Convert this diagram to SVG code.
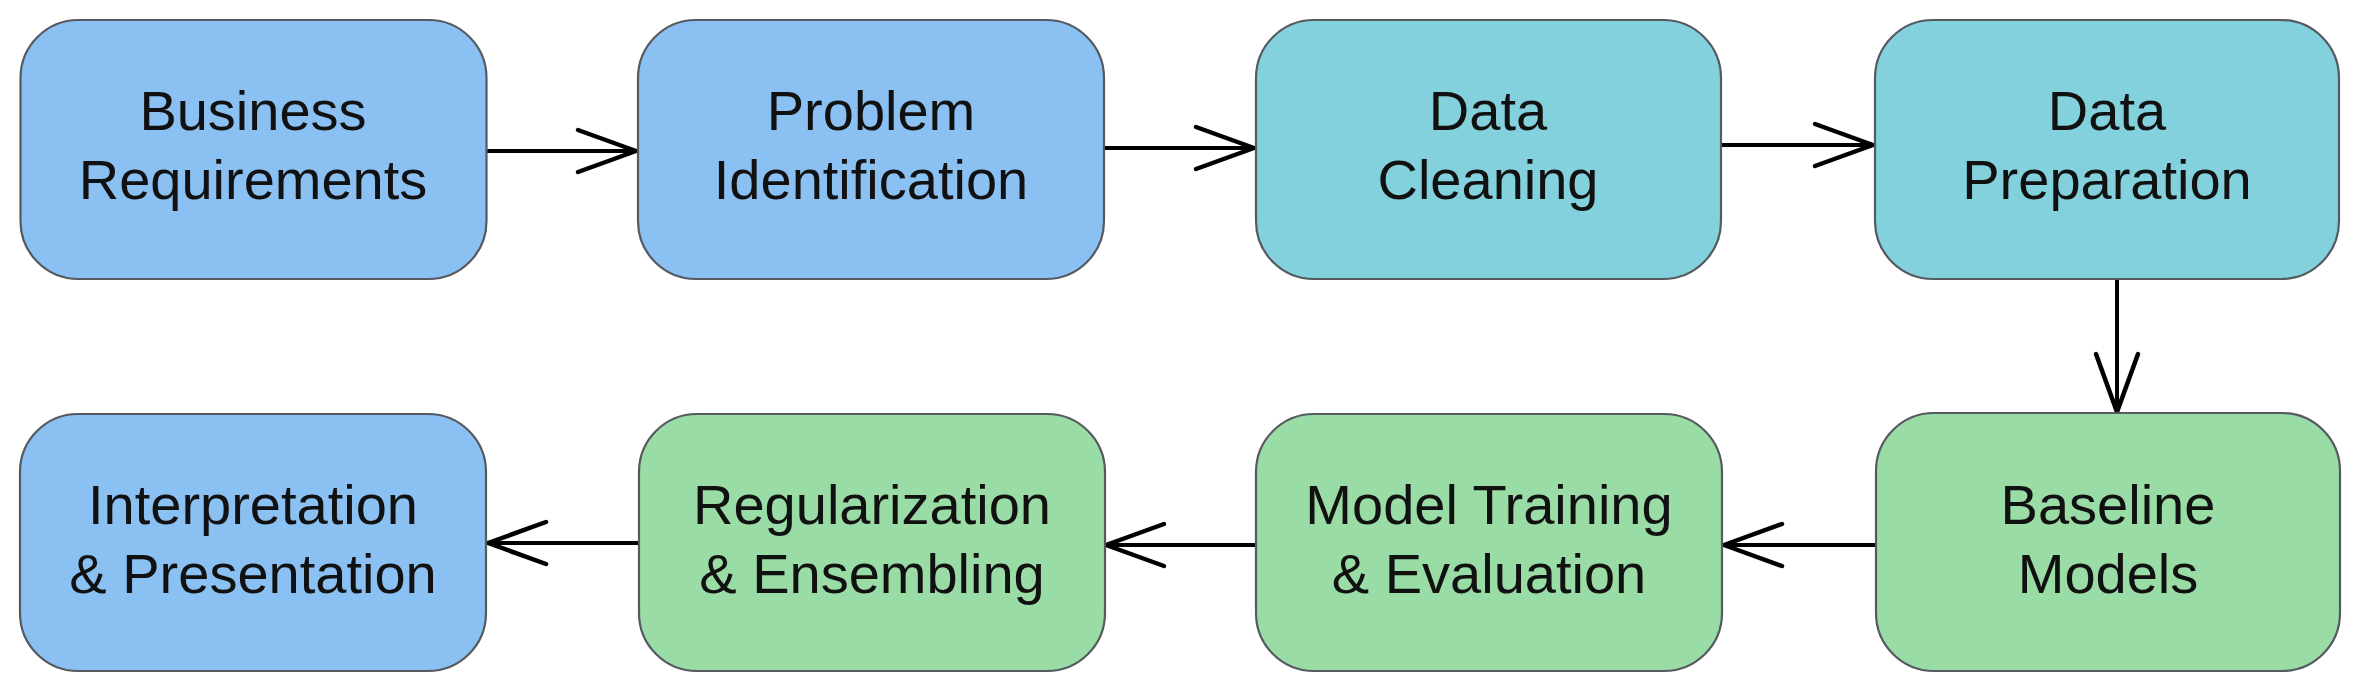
<svg xmlns="http://www.w3.org/2000/svg" width="2360" height="693" viewBox="0 0 2360 693">
<style>
.box{stroke:#555a60;stroke-width:2.2}
.blue{fill:#8ac0f2}
.teal{fill:#83d1dc}
.green{fill:#9adca5}
.lbl{font-family:"Liberation Sans",Arial,sans-serif;font-size:56px;fill:#111;text-anchor:middle}
.conn{fill:none;stroke:#000;stroke-width:4;stroke-linecap:round}
</style>
<defs>
<marker id="arr" markerUnits="userSpaceOnUse" viewBox="-64 -26 68 52" markerWidth="68" markerHeight="52" refX="0" refY="0" orient="auto">
<path d="M-58,-21 L0,0 L-58,21" fill="none" stroke="#000" stroke-width="4.5" stroke-linecap="round" stroke-linejoin="round"/>
</marker>
</defs>
<rect width="2360" height="693" fill="#fff"/>
<g id="connectors">
<path class="conn" d="M486,151 H636" marker-end="url(#arr)"/>
<path class="conn" d="M1104,148 H1254" marker-end="url(#arr)"/>
<path class="conn" d="M1721,145 H1873" marker-end="url(#arr)"/>
<path class="conn" d="M2117,279 V412" marker-end="url(#arr)"/>
<path class="conn" d="M1875,545 H1724" marker-end="url(#arr)"/>
<path class="conn" d="M1256,545 H1106" marker-end="url(#arr)"/>
<path class="conn" d="M638,543 H488" marker-end="url(#arr)"/>
</g>
<g id="n1">
<rect class="box blue" x="20.5" y="20" width="466" height="259" rx="58"/>
<text class="lbl" x="253" y="130">Business</text>
<text class="lbl" x="253" y="199">Requirements</text>
</g>
<g id="n2">
<rect class="box blue" x="638" y="20" width="466" height="259" rx="58"/>
<text class="lbl" x="871" y="130">Problem</text>
<text class="lbl" x="871" y="199">Identification</text>
</g>
<g id="n3">
<rect class="box teal" x="1256" y="20" width="465" height="259" rx="58"/>
<text class="lbl" x="1488" y="130">Data</text>
<text class="lbl" x="1488" y="199">Cleaning</text>
</g>
<g id="n4">
<rect class="box teal" x="1875" y="20" width="464" height="259" rx="58"/>
<text class="lbl" x="2107" y="130">Data</text>
<text class="lbl" x="2107" y="199">Preparation</text>
</g>
<g id="n8">
<rect class="box green" x="1876" y="413" width="464" height="258" rx="58"/>
<text class="lbl" x="2108" y="524">Baseline</text>
<text class="lbl" x="2108" y="593">Models</text>
</g>
<g id="n7">
<rect class="box green" x="1256" y="414" width="466" height="257" rx="58"/>
<text class="lbl" x="1489" y="524">Model Training</text>
<text class="lbl" x="1489" y="593">&amp; Evaluation</text>
</g>
<g id="n6">
<rect class="box green" x="639" y="414" width="466" height="257" rx="58"/>
<text class="lbl" x="872" y="524">Regularization</text>
<text class="lbl" x="872" y="593">&amp; Ensembling</text>
</g>
<g id="n5">
<rect class="box blue" x="20" y="414" width="466" height="257" rx="58"/>
<text class="lbl" x="253" y="524">Interpretation</text>
<text class="lbl" x="253" y="593">&amp; Presentation</text>
</g>
</svg>
